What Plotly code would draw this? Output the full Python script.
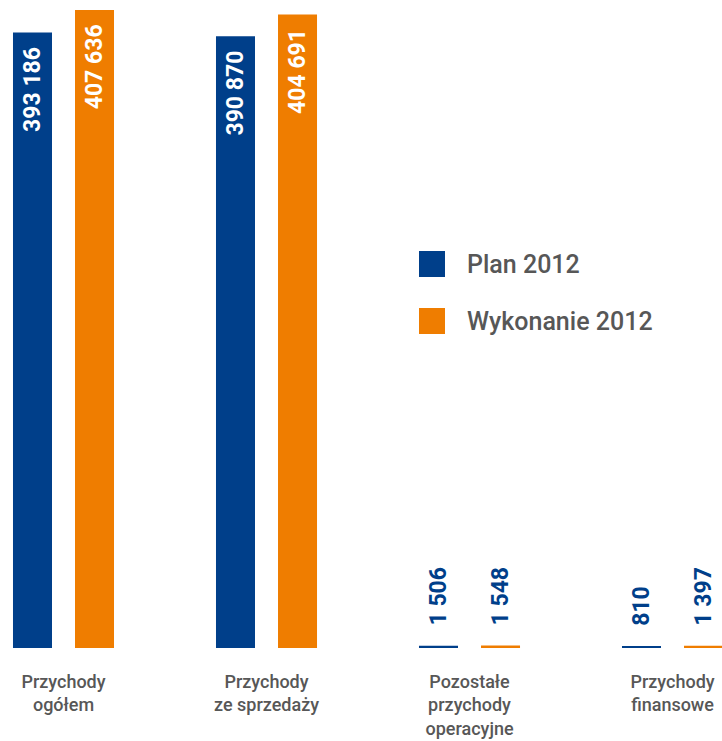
import plotly.graph_objects as go

categories = ["Przychody<br>ogółem", "Przychody<br>ze sprzedaży",
              "Pozostałe<br>przychody<br>operacyjne", "Przychody<br>finansowe"]
series_names = ["Plan 2012", "Wykonanie 2012"]
plan_2012 = [393186, 390870, 1506, 810]
wykonanie_2012 = [407636, 404691, 1548, 1397]

BLUE = "#003f8a"
ORANGE = "#ef7d00"
GRAY = "#575757"
FONT = "Roboto"

W, H = 722, 741
PLOT_BOTTOM = 648

positions = ["inside", "inside", "outside", "outside"]
templates = ["%{y:,.0f}\u00a0\u00a0", "%{y:,.0f}\u00a0\u00a0",
             "\u00a0\u00a0\u00a0%{y:,.0f}", "\u00a0\u00a0\u00a0%{y:,.0f}"]

fig = go.Figure()
for name, vals, col in [(series_names[0], plan_2012, BLUE),
                        (series_names[1], wykonanie_2012, ORANGE)]:
    fig.add_trace(go.Bar(
        x=categories, y=vals, name=name,
        marker=dict(color=col, line=dict(width=0)),
        texttemplate=templates, textposition=positions,
        textangle=-90, insidetextanchor="end", constraintext="none",
        insidetextfont=dict(color="white", size=23, family=FONT, weight="bold"),
        outsidetextfont=dict(color=BLUE, size=23, family=FONT, weight="bold"),
        cliponaxis=False, showlegend=False, hoverinfo="skip",
    ))

# manual legend
for i, (name, col) in enumerate(zip(series_names, [BLUE, ORANGE])):
    cy = 264 + i * 57
    fig.add_shape(type="rect", xref="paper", yref="paper",
                  x0=419 / W, x1=445 / W,
                  y0=(PLOT_BOTTOM - (cy + 13)) / PLOT_BOTTOM,
                  y1=(PLOT_BOTTOM - (cy - 13)) / PLOT_BOTTOM,
                  fillcolor=col, line=dict(width=0))
    fig.add_annotation(xref="paper", yref="paper", x=465 / W,
                       y=(PLOT_BOTTOM - cy) / PLOT_BOTTOM,
                       text=name, showarrow=False, xanchor="left", yanchor="middle",
                       font=dict(size=25, color=GRAY, family=FONT, weight=500))

fig.update_layout(
    width=W, height=H,
    margin=dict(l=0, r=0, t=0, b=H - PLOT_BOTTOM),
    paper_bgcolor="white", plot_bgcolor="white",
    barmode="group", bargap=0.389, bargroupgap=0.371,
    separators=". ",
    showlegend=False,
    font=dict(family=FONT, color=GRAY),
    xaxis=dict(type="category", range=[-0.3128, 3.2438], showgrid=False,
               showline=False, zeroline=False, ticks="",
               tickfont=dict(size=18, color=GRAY, family=FONT, weight=500),
               ticklabelstandoff=21),
    yaxis=dict(visible=False, range=[0, 414000]),
)

fig.write_html("out.html", config={"displayModeBar": False},
               post_script="document.body.style.margin='0';document.body.style.padding='0';")
